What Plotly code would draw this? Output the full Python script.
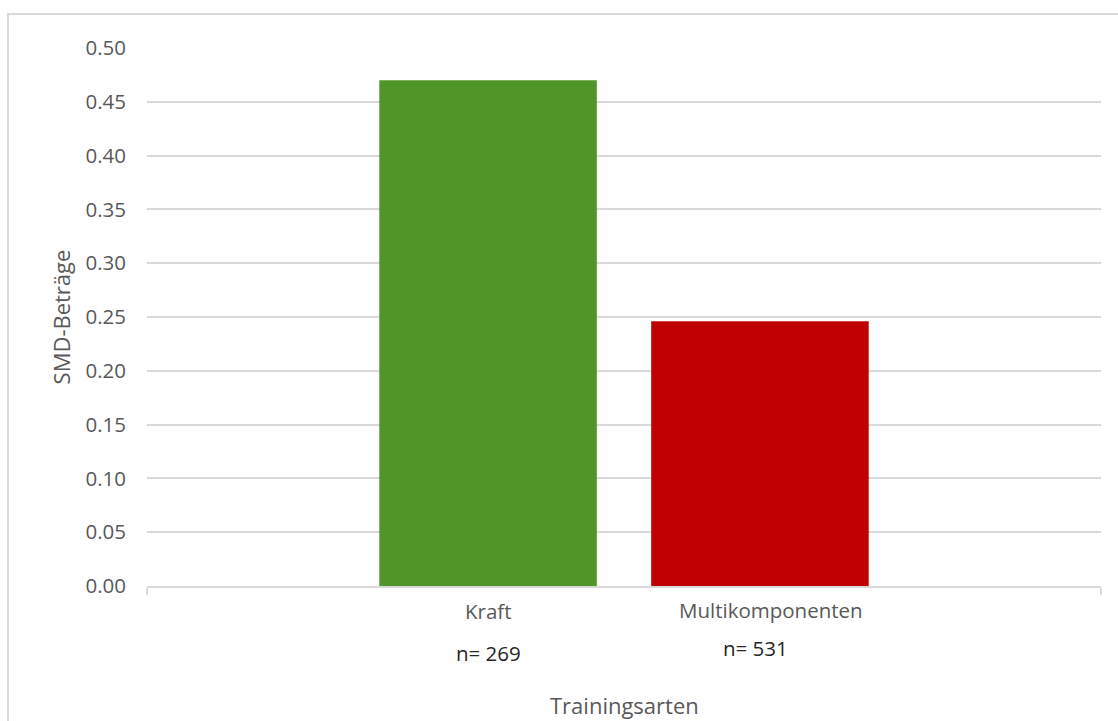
import plotly.graph_objects as go

# Mean absolute SMD per training type
trainingsarten = ["Kraft", "Multikomponenten"]
smd_betraege = [0.47, 0.246]
stichprobe_n = [269, 531]
farben = ["#509528", "#C00000"]

y_ticks = [0.00, 0.05, 0.10, 0.15, 0.20, 0.25, 0.30, 0.35, 0.40, 0.45, 0.50]

BARGAP = 0.43
BARGROUPGAP = 0.2
FONT = "Open Sans"
GRAY = "#595959"

fig = go.Figure()
for name, val, col in zip(trainingsarten, smd_betraege, farben):
    fig.add_trace(go.Bar(
        x=["Trainingsarten"], y=[val], name=name,
        marker=dict(color=col, line=dict(width=0)),
        showlegend=False, hoverinfo="y+name",
    ))

# Category labels sit under the bar centres of the single grouped category
slot = (1 - BARGAP) / len(trainingsarten)
label_y = [-0.046, -0.045]
count_y = [-0.124, -0.116]
for i, (name, n) in enumerate(zip(trainingsarten, stichprobe_n)):
    cx = BARGAP / 2 + slot * (i + 0.5)
    fig.add_annotation(x=cx + (0.012 * i), y=label_y[i], xref="paper", yref="paper",
                       text=name, showarrow=False, yanchor="middle",
                       font=dict(family=FONT, size=20.5, color=GRAY))
    fig.add_annotation(x=cx - (0.005 * i), y=count_y[i], xref="paper", yref="paper",
                       text=f"n= {n}", showarrow=False, yanchor="middle",
                       font=dict(family=FONT, size=20.5, color="#262626"))

# x-axis title
fig.add_annotation(x=0.5, y=-0.222, xref="paper", yref="paper",
                   text="Trainingsarten", showarrow=False, yanchor="middle",
                   font=dict(family=FONT, size=22, color=GRAY))

# Chart-area frame
fig.add_shape(type="rect", xref="paper", yref="paper",
              x0=-0.1457, x1=1.2, y0=-0.6, y1=1.0632,
              line=dict(color="#d9d9d9", width=2), layer="below")

fig.update_layout(
    width=1118, height=721,
    margin=dict(l=147, r=17, t=48, b=135),
    paper_bgcolor="white", plot_bgcolor="white",
    barmode="group", bargap=BARGAP, bargroupgap=BARGROUPGAP,
    font=dict(family=FONT, color=GRAY),
)
fig.update_xaxes(
    showticklabels=False, showgrid=False, automargin=False,
    showline=True, linecolor="#d9d9d9", linewidth=2,
    ticks="outside", tickson="boundaries", ticklen=7, tickcolor="#d9d9d9", tickwidth=2,
)
fig.update_yaxes(
    range=[0, 0.5], tickvals=y_ticks, tickformat=".2f", automargin=False,
    showgrid=True, gridcolor="#d9d9d9", gridwidth=2,
    zeroline=False, showline=False, ticks="",
    ticklabelstandoff=20,
    tickfont=dict(family=FONT, size=20.5, color=GRAY),
    title=dict(text="SMD-Beträge", standoff=8,
               font=dict(family=FONT, size=22, color=GRAY)),
)

fig.write_html("out.html")
